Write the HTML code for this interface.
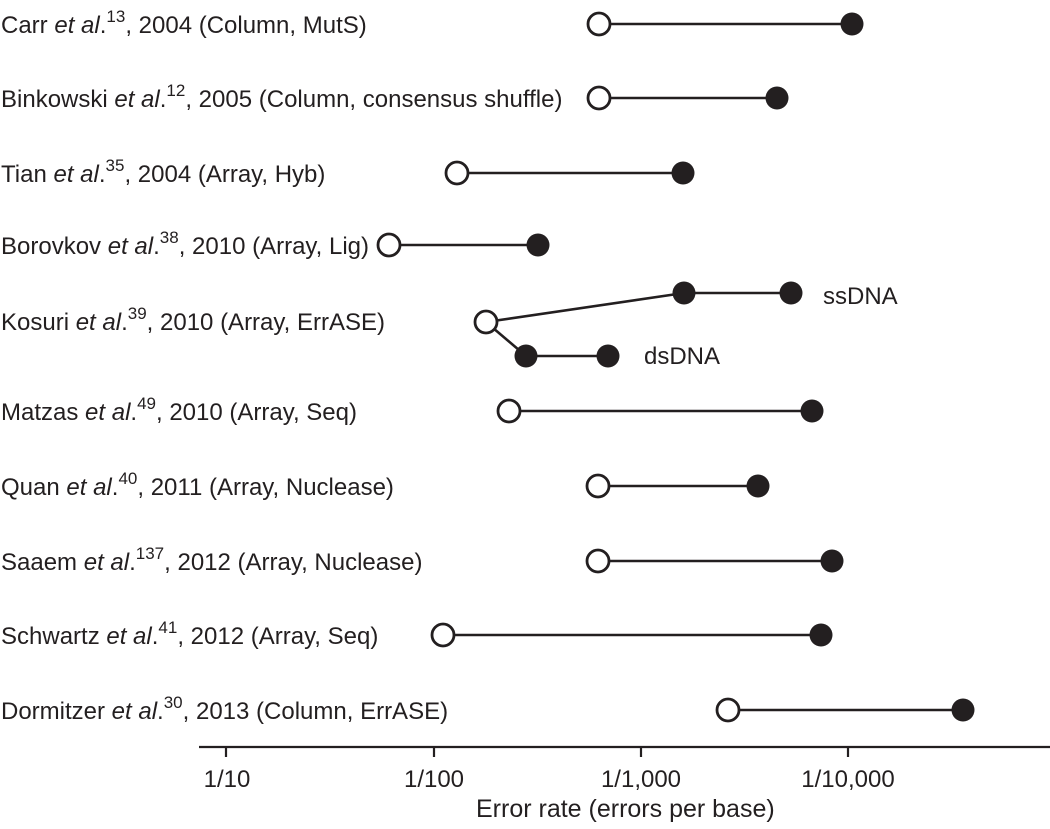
<!DOCTYPE html>
<html>
<head>
<meta charset="utf-8">
<style>
  html, body { margin: 0; padding: 0; background: #ffffff; }
  body { width: 1050px; height: 829px; overflow: hidden; }
  svg { display: block; }
  text { font-family: "Liberation Sans", Arial, sans-serif; fill: #231f20; }
</style>
</head>
<body>
<svg width="1050" height="829" viewBox="0 0 1050 829" xmlns="http://www.w3.org/2000/svg">
  <!-- Row labels -->
  <g font-size="24">
    <text x="1" y="33">Carr <tspan font-style="italic">et al</tspan>.<tspan font-size="17" dy="-11">13</tspan><tspan dy="11">, 2004 (Column, MutS)</tspan></text>
    <text x="1" y="107">Binkowski <tspan font-style="italic">et al</tspan>.<tspan font-size="17" dy="-11">12</tspan><tspan dy="11">, 2005 (Column, consensus shuffle)</tspan></text>
    <text x="1" y="182">Tian <tspan font-style="italic">et al</tspan>.<tspan font-size="17" dy="-11">35</tspan><tspan dy="11">, 2004 (Array, Hyb)</tspan></text>
    <text x="1" y="254">Borovkov <tspan font-style="italic">et al</tspan>.<tspan font-size="17" dy="-11">38</tspan><tspan dy="11">, 2010 (Array, Lig)</tspan></text>
    <text x="1" y="330">Kosuri <tspan font-style="italic">et al</tspan>.<tspan font-size="17" dy="-11">39</tspan><tspan dy="11">, 2010 (Array, ErrASE)</tspan></text>
    <text x="1" y="420">Matzas <tspan font-style="italic">et al</tspan>.<tspan font-size="17" dy="-11">49</tspan><tspan dy="11">, 2010 (Array, Seq)</tspan></text>
    <text x="1" y="495">Quan <tspan font-style="italic">et al</tspan>.<tspan font-size="17" dy="-11">40</tspan><tspan dy="11">, 2011 (Array, Nuclease)</tspan></text>
    <text x="1" y="570">Saaem <tspan font-style="italic">et al</tspan>.<tspan font-size="17" dy="-11">137</tspan><tspan dy="11">, 2012 (Array, Nuclease)</tspan></text>
    <text x="1" y="644">Schwartz <tspan font-style="italic">et al</tspan>.<tspan font-size="17" dy="-11">41</tspan><tspan dy="11">, 2012 (Array, Seq)</tspan></text>
    <text x="1" y="719">Dormitzer <tspan font-style="italic">et al</tspan>.<tspan font-size="17" dy="-11">30</tspan><tspan dy="11">, 2013 (Column, ErrASE)</tspan></text>
  </g>

  <!-- Connecting lines -->
  <g stroke="#231f20" stroke-width="2.6" fill="none">
    <line x1="599" y1="24" x2="852" y2="24"/>
    <line x1="599" y1="98" x2="777" y2="98"/>
    <line x1="457" y1="173" x2="683" y2="173"/>
    <line x1="389" y1="245" x2="538" y2="245"/>
    <line x1="486" y1="322" x2="684" y2="293"/>
    <line x1="684" y1="293" x2="791" y2="293"/>
    <line x1="486" y1="322" x2="526" y2="356"/>
    <line x1="526" y1="356" x2="608" y2="356"/>
    <line x1="509" y1="411" x2="812" y2="411"/>
    <line x1="598" y1="486" x2="758" y2="486"/>
    <line x1="598" y1="561" x2="832" y2="561"/>
    <line x1="443" y1="635" x2="821" y2="635"/>
    <line x1="728" y1="710" x2="963" y2="710"/>
  </g>

  <!-- Filled circles -->
  <g fill="#231f20">
    <circle cx="852" cy="24" r="11.5"/>
    <circle cx="777" cy="98" r="11.5"/>
    <circle cx="683" cy="173" r="11.5"/>
    <circle cx="538" cy="245" r="11.5"/>
    <circle cx="684" cy="293" r="11.5"/>
    <circle cx="791" cy="293" r="11.5"/>
    <circle cx="526" cy="356" r="11.5"/>
    <circle cx="608" cy="356" r="11.5"/>
    <circle cx="812" cy="411" r="11.5"/>
    <circle cx="758" cy="486" r="11.5"/>
    <circle cx="832" cy="561" r="11.5"/>
    <circle cx="821" cy="635" r="11.5"/>
    <circle cx="963" cy="710" r="11.5"/>
  </g>

  <!-- Open circles -->
  <g fill="#ffffff" stroke="#231f20" stroke-width="2.8">
    <circle cx="599" cy="24" r="11"/>
    <circle cx="599" cy="98" r="11"/>
    <circle cx="457" cy="173" r="11"/>
    <circle cx="389" cy="245" r="11"/>
    <circle cx="486" cy="322" r="11"/>
    <circle cx="509" cy="411" r="11"/>
    <circle cx="598" cy="486" r="11"/>
    <circle cx="598" cy="561" r="11"/>
    <circle cx="443" cy="635" r="11"/>
    <circle cx="728" cy="710" r="11"/>
  </g>

  <!-- ss/ds labels -->
  <text x="823" y="304" font-size="24">ssDNA</text>
  <text x="644" y="364" font-size="24">dsDNA</text>

  <!-- Axis -->
  <g stroke="#231f20" stroke-width="2.2">
    <line x1="199" y1="747" x2="1050" y2="747"/>
    <line x1="226" y1="747" x2="226" y2="757"/>
    <line x1="434" y1="747" x2="434" y2="757"/>
    <line x1="641" y1="747" x2="641" y2="757"/>
    <line x1="848" y1="747" x2="848" y2="757"/>
  </g>
  <g font-size="24" text-anchor="middle">
    <text x="227" y="787">1/10</text>
    <text x="434" y="787">1/100</text>
    <text x="641" y="787">1/1,000</text>
    <text x="848" y="787">1/10,000</text>
  </g>
  <text x="476" y="817" font-size="25">Error rate (errors per base)</text>
</svg>
</body>
</html>
